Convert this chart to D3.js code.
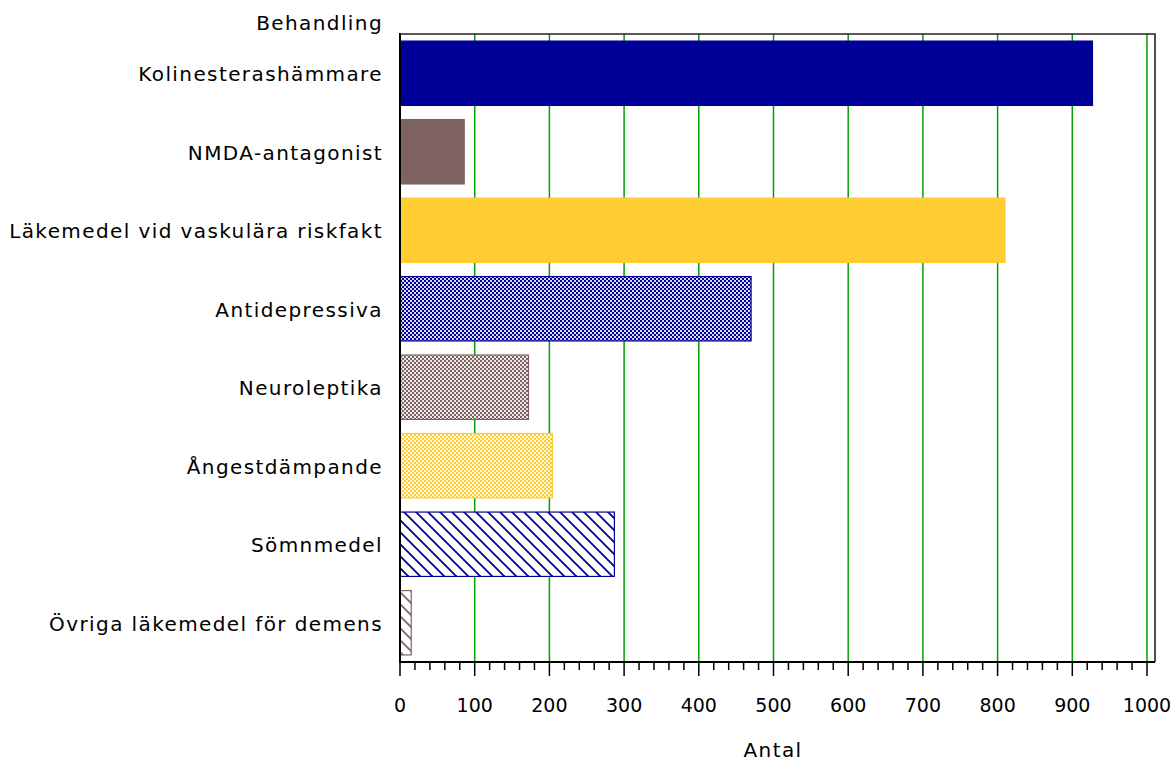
<!DOCTYPE html>
<html>
<head>
<meta charset="utf-8">
<script src="https://cdn.jsdelivr.net/npm/d3@7"></script>
<style>
  body { margin: 0; background: #fff; }
  text { font-family: Verdana, "DejaVu Sans", sans-serif; fill: #000; }
  .lbl { font-size: 20px; letter-spacing: 1.4px; }
</style>
</head>
<body>
<div id="chart"></div>
<script>
// Données
const categories = [
  "Kolinesterashämmare",
  "NMDA-antagonist",
  "Läkemedel vid vaskulära riskfakt",
  "Antidepressiva",
  "Neuroleptika",
  "Ångestdämpande",
  "Sömnmedel",
  "Övriga läkemedel för demens"
];
const values = [927, 86, 810, 470, 172, 204, 287, 15];
const ticks = [0, 100, 200, 300, 400, 500, 600, 700, 800, 900, 1000];

const width = 1175;
const height = 762;
const margin = { top: 34, right: 20, bottom: 100, left: 400 };

const navy = "#000099";
const brown = "#7f6262";
const yellow = "#ffcc33";
// couleur + motif de chaque barre
const fills = [
  { c: navy, p: "solid" },
  { c: brown, p: "solid" },
  { c: yellow, p: "solid" },
  { c: navy, p: "check" },
  { c: brown, p: "check" },
  { c: yellow, p: "check" },
  { c: navy, p: "diag" },
  { c: brown, p: "diag" }
];

const svg = d3.select("#chart").append("svg")
  .attr("width", width)
  .attr("height", height);

const defs = svg.append("defs");
fills.forEach((f, i) => {
  if (f.p === "check") {
    const p = defs.append("pattern").attr("id", "pat" + i)
      .attr("patternUnits", "userSpaceOnUse").attr("width", 4).attr("height", 4);
    p.append("rect").attr("width", 4).attr("height", 4).attr("fill", "#fff");
    p.append("rect").attr("width", 4).attr("height", 4).attr("fill", f.c).attr("opacity", 0.15);
    p.append("rect").attr("x", 0).attr("y", 0).attr("width", 2).attr("height", 2).attr("fill", f.c);
    p.append("rect").attr("x", 2).attr("y", 2).attr("width", 2).attr("height", 2).attr("fill", f.c);
  } else if (f.p === "diag") {
    const p = defs.append("pattern").attr("id", "pat" + i)
      .attr("patternUnits", "userSpaceOnUse").attr("width", 12).attr("height", 12);
    p.append("rect").attr("width", 12).attr("height", 12).attr("fill", "#fff");
    p.append("path")
      .attr("d", "M-3,-3L15,15M-3,9L3,15M9,-3L15,3")
      .attr("stroke", f.c).attr("stroke-width", 1.8);
  }
});

const x = d3.scaleLinear()
  .domain([0, 1000])
  .range([margin.left, 1147]);

const y = d3.scaleBand()
  .domain(categories)
  .range([margin.top, height - margin.bottom])
  .paddingInner(0.18)
  .paddingOuter(0.09);

// grille verticale verte
svg.append("g")
  .selectAll("line")
  .data(ticks.filter((d) => d > 0))
  .enter()
  .append("line")
  .attr("x1", (d) => x(d))
  .attr("x2", (d) => x(d))
  .attr("y1", margin.top)
  .attr("y2", height - margin.bottom)
  .attr("stroke", "#00a000")
  .attr("stroke-width", 1.5);

// barres
svg.append("g")
  .selectAll("rect")
  .data(values)
  .enter()
  .append("rect")
  .attr("x", x(0))
  .attr("y", (d, i) => y(categories[i]))
  .attr("width", (d) => x(d) - x(0))
  .attr("height", y.bandwidth())
  .attr("fill", (d, i) => fills[i].p === "solid" ? fills[i].c : `url(#pat${i})`)
  .attr("stroke", (d, i) => fills[i].c)
  .attr("stroke-width", 1.2);

// cadre haut et droit
svg.append("path")
  .attr("d", `M${x(0)},${margin.top}H1155V${height - margin.bottom}`)
  .attr("fill", "none")
  .attr("stroke", "#222")
  .attr("stroke-width", 1.6);

// axe x
const xAxis = svg.append("g")
  .attr("transform", `translate(0,${height - margin.bottom})`);
xAxis.append("line")
  .attr("x1", x(0) - 1).attr("x2", 1155)
  .attr("stroke", "#000").attr("stroke-width", 2);
xAxis.selectAll(".minor")
  .data(d3.range(20, 1000, 20).filter((d) => d % 100 !== 0))
  .enter()
  .append("line")
  .attr("x1", (d) => x(d)).attr("x2", (d) => x(d))
  .attr("y1", 0).attr("y2", 8)
  .attr("stroke", "#000").attr("stroke-width", 1.5);
xAxis.selectAll(".major")
  .data(ticks)
  .enter()
  .append("line")
  .attr("x1", (d) => x(d)).attr("x2", (d) => x(d))
  .attr("y1", 0).attr("y2", 14)
  .attr("stroke", "#000").attr("stroke-width", 1.5);
xAxis.selectAll("text")
  .data(ticks)
  .enter()
  .append("text")
  .attr("x", (d) => x(d))
  .attr("y", 50)
  .attr("text-anchor", "middle")
  .style("font-size", "19px")
  .text((d) => d);

svg.append("text")
  .attr("class", "lbl")
  .attr("x", 773)
  .attr("y", 757)
  .attr("text-anchor", "middle")
  .text("Antal");

// axe y
svg.append("line")
  .attr("x1", x(0)).attr("x2", x(0))
  .attr("y1", margin.top - 1).attr("y2", height - margin.bottom + 1)
  .attr("stroke", "#000").attr("stroke-width", 2);

svg.append("g")
  .selectAll("text")
  .data(categories)
  .enter()
  .append("text")
  .attr("class", "lbl")
  .attr("x", 383)
  .attr("y", (d) => y(d) + y.bandwidth() / 2 + 8)
  .attr("text-anchor", "end")
  .text((d) => d);

svg.append("text")
  .attr("class", "lbl")
  .attr("x", 383)
  .attr("y", 30)
  .attr("text-anchor", "end")
  .text("Behandling");
</script>
</body>
</html>
